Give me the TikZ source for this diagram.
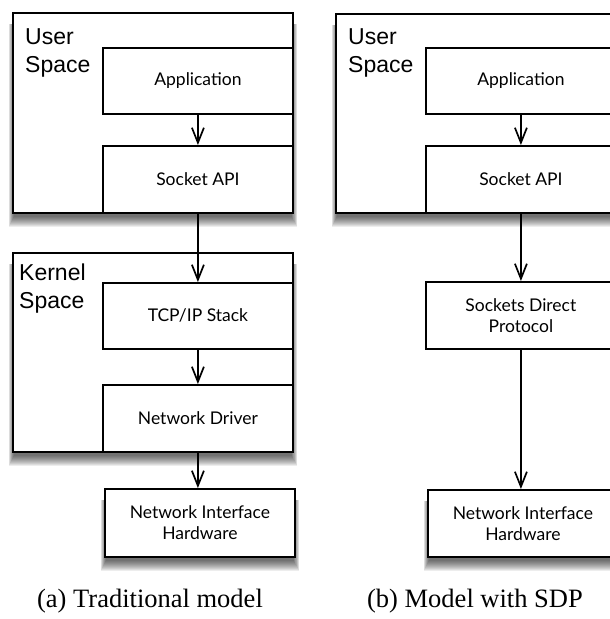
\documentclass[tikz,border=0pt]{standalone}
\usepackage{fontspec}
\newfontfamily\lblfont{Liberation Sans}
\newfontfamily\bxfont{Lato}
\newfontfamily\capfont{Liberation Serif}
\usetikzlibrary{arrows.meta,backgrounds}
\tikzset{
  box/.style={draw, fill=white, line width=1.8pt, anchor=north west, inner sep=0pt, align=center,
    font=\bxfont\fontsize{17.5}{21}\selectfont},
  outer/.style={draw, fill=white, line width=1.8pt, anchor=north west, inner sep=0pt},
  lbl/.style={anchor=north west, inner sep=0pt, align=left, font=\lblfont\fontsize{23}{28}\selectfont},
  captxt/.style={anchor=base, inner sep=0pt, font=\capfont\fontsize{26.5}{30}\selectfont},
  arr/.style={line width=1.7pt, -{Straight Barb[length=15pt,width=12pt]}},
  shlayer/.style={fill=black, opacity=0.07}
}
\newcommand\softshadow[1]{%
  \foreach \r in {0,1,...,10} {
    \fill[shlayer] ([xshift={-\r*0.55pt+2pt}, yshift=-12pt]#1.north west)
      rectangle ([xshift={\r*0.55pt-2pt}, yshift={-3pt-\r*1.0pt}]#1.south east);
  }}
\begin{document}
\begin{tikzpicture}[x=1pt,y=-1pt]
\useasboundingbox (0,0) rectangle (610,619);
\clip (0,0) rectangle (610,619);
% ---- left panel
\node[outer, minimum width=280pt, minimum height=200pt] (LUS) at (12,12) {};
\node[lbl] (LUSl) at (25,28) {User\\Space};
\node[box, minimum width=190pt, minimum height=66pt] (LApp) at (102,47) {Application};
\node[box, minimum width=190pt, minimum height=67pt] (LSock) at (102,145) {Socket API};
\node[outer, minimum width=280pt, minimum height=199pt] (LKS) at (12,252) {};
\node[lbl] (LKSl) at (19,264) {Kernel\\Space};
\node[box, minimum width=190pt, minimum height=66pt] (LTCP) at (102,282) {TCP/IP Stack};
\node[box, minimum width=190pt, minimum height=67pt] (LND) at (102,384) {Network Driver};
\node[box, minimum width=190pt, minimum height=68pt] (LNIH) at (104,488) {Network Interface\\Hardware};
\draw[arr] (LApp.south) -- (LSock.north);
\draw[arr] (LSock.south) -- (LTCP.north);
\draw[arr] (LTCP.south) -- (LND.north);
\draw[arr] (LND.south) -- (LND.south |- LNIH.north);
% ---- right panel
\node[outer, minimum width=285pt, minimum height=199pt] (RUS) at (335,13) {};
\node[lbl] (RUSl) at (348,28) {User\\Space};
\node[box, minimum width=190pt, minimum height=66pt] (RApp) at (425,47) {Application};
\node[box, minimum width=190pt, minimum height=67pt] (RSock) at (425,145) {Socket API};
\node[box, minimum width=190pt, minimum height=67pt] (RSDP) at (425,281) {Sockets Direct\\Protocol};
\node[box, minimum width=190pt, minimum height=67pt] (RNIH) at (427,489) {Network Interface\\Hardware};
\draw[arr] (RApp.south) -- (RSock.north);
\draw[arr] (RSock.south) -- (RSDP.north);
\draw[arr] (RSDP.south) -- (RSDP.south |- RNIH.north);
% ---- captions
\node[captxt] (capa) at (150,607) {(a) Traditional model};
\node[captxt] (capb) at (475,607) {(b) Model with SDP};
% ---- shadows
\begin{pgfonlayer}{background}
\softshadow{LUS}
\softshadow{LKS}
\softshadow{LNIH}
\softshadow{RUS}
\softshadow{RNIH}
\end{pgfonlayer}
\end{tikzpicture}
\end{document}
